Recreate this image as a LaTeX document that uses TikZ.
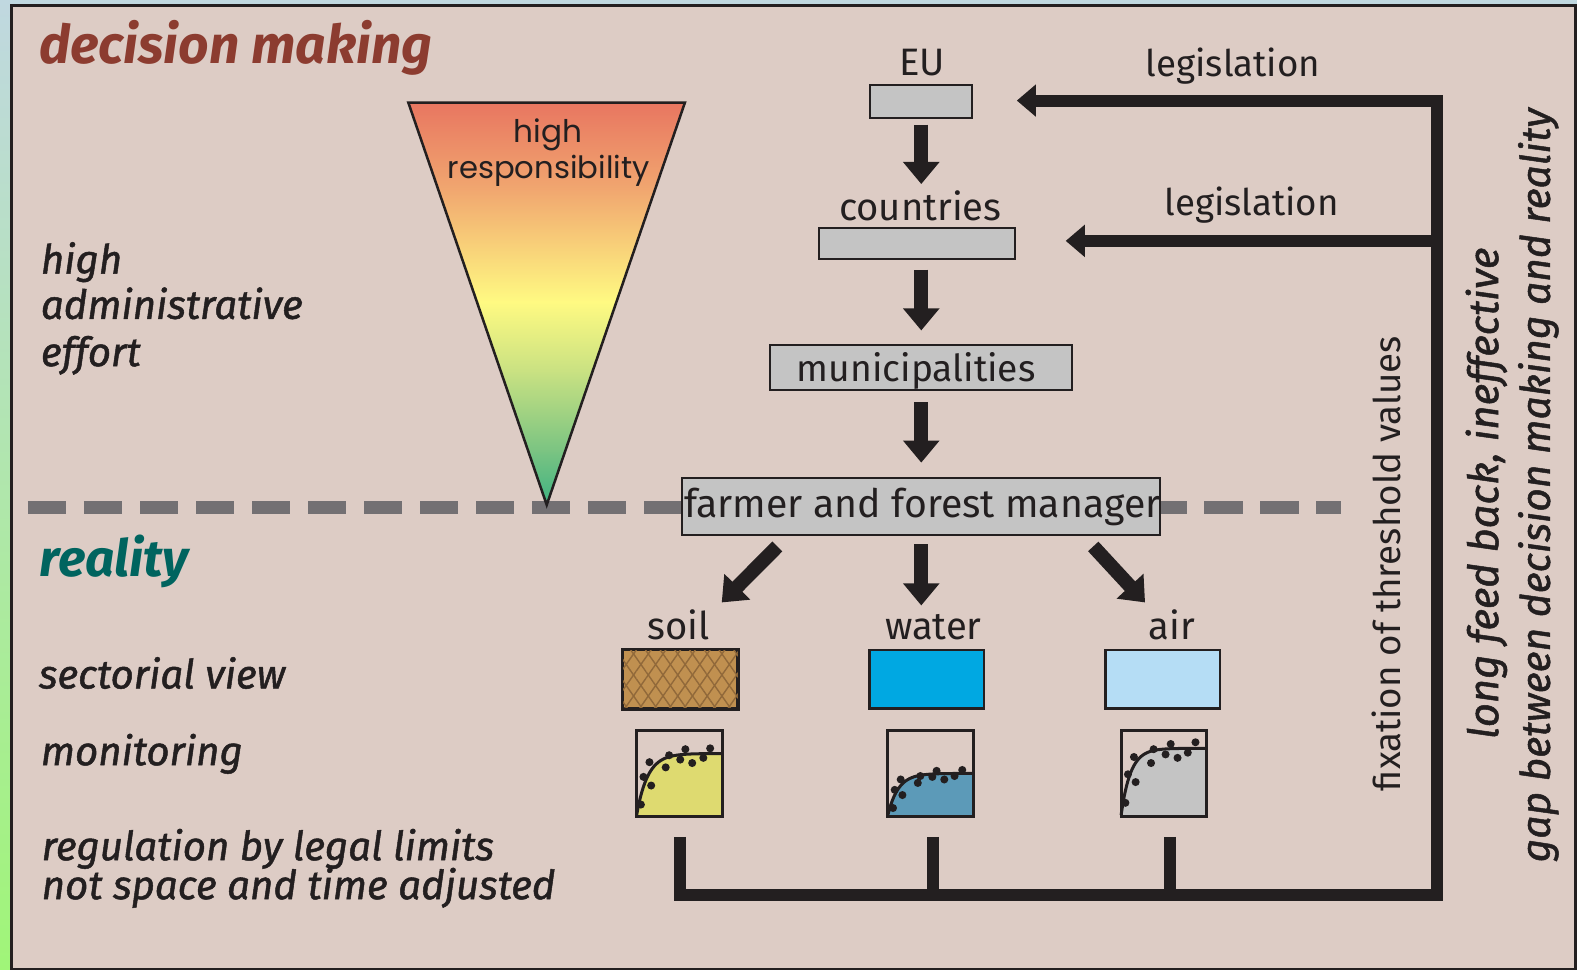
\documentclass[tikz,border=0pt]{standalone}
\usepackage{fontspec}
\setmainfont{Fira Sans}
\newfontfamily\resfont{Poppins}
\newfontfamily\labfont{Fira Sans}[ItalicFeatures={FakeBold=1.2}]
\usetikzlibrary{arrows.meta,patterns.meta}

\definecolor{bg}{RGB}{221,204,197}
\definecolor{ink}{RGB}{35,31,32}
\definecolor{boxgray}{RGB}{196,196,196}
\definecolor{dashgray}{RGB}{115,112,115}
\definecolor{titlered}{RGB}{140,60,48}
\definecolor{realteal}{RGB}{0,100,95}
\definecolor{soilc}{RGB}{192,144,80}
\definecolor{soilh}{RGB}{145,105,58}
\definecolor{waterc}{RGB}{0,168,226}
\definecolor{airc}{RGB}{181,221,245}
\definecolor{chsoil}{RGB}{222,218,112}
\definecolor{chwater}{RGB}{92,154,184}
\definecolor{chair}{RGB}{196,196,196}
\definecolor{trA}{RGB}{232,117,96}
\definecolor{trB}{RGB}{241,168,112}
\definecolor{trC}{RGB}{255,250,130}
\definecolor{trD}{RGB}{200,225,130}
\definecolor{trE}{RGB}{120,195,130}
\definecolor{trF}{RGB}{60,178,130}
\definecolor{stripblue}{RGB}{192,216,224}
\definecolor{stripgreen}{RGB}{160,245,120}

\tikzset{
  govbox/.style={draw=ink,fill=boxgray,line width=2pt,inner sep=0pt},
  fat/.style={ink,line width=14pt,-{Triangle[width=35pt,length=22pt]}},
  feed/.style={ink,line width=12pt,line join=miter},
  feedarrow/.style={feed,-{Triangle[width=31pt,length=19pt]}},
  lab/.style={font=\fontsize{38}{44}\selectfont,text=ink,inner sep=0pt,anchor=base},
  side/.style={font=\labfont\itshape\fontsize{40}{46}\selectfont,text=ink,inner sep=0pt,anchor=base west},
  vside/.style={font=\labfont\itshape\fontsize{41.5}{46}\selectfont,text=ink,inner sep=0pt,anchor=base,rotate=90},
  sector/.style={draw=ink,line width=2.5pt,minimum width=114pt,minimum height=58pt,inner sep=0pt},
  chartframe/.style={draw=ink,line width=3pt,minimum width=85pt,minimum height=86pt,inner sep=0pt},
}

\newcommand\mychart[6]{%
  \begin{scope}[shift={(#1,726)}]
    \fill[#2] (0,86) -- plot[domain=0:1,samples=40,smooth] ({85*\x},{86*(#3+(0.98-#3)*exp(-#4*\x))}) -- (85,86) -- cycle;
    \draw[ink,line width=3pt] plot[domain=0:1,samples=40,smooth] ({85*\x},{86*(#3+(0.98-#3)*exp(-#4*\x))});
    \foreach \px/\py in {#5} \fill[ink] (85*\px,86*\py) circle[radius=4pt];
  \end{scope}
  \node[chartframe] (#6) at (#1+42.5,769) {};
}

\begin{document}
\begin{tikzpicture}[x=1pt,y=-1pt]
\useasboundingbox (0,0) rectangle (1568,964);
% outer strips and frame
\fill[stripblue] (0,0) rectangle (1568,6);
\shade[top color=stripblue,bottom color=stripgreen] (0,0) rectangle (11,964);
\draw[ink,line width=2.7pt,fill=bg] (11.3,5.3) rectangle (1566.7,963.5);

% dashed separator
\draw[dashgray,line width=13pt,dash pattern=on 38pt off 17.7pt] (27.8,505) -- (1333,505);

% triangle
\begin{scope}
  \clip (406,102) -- (681,102) -- (543.6,502) -- cycle;
  \shade[top color=trA,bottom color=trB] (400,100) rectangle (690,191);
  \shade[top color=trB,bottom color=trC] (400,190) rectangle (690,301);
  \shade[top color=trC,bottom color=trD] (400,300) rectangle (690,371);
  \shade[top color=trD,bottom color=trE] (400,370) rectangle (690,451);
  \shade[top color=trE,bottom color=trF] (400,450) rectangle (690,505);
\end{scope}
\draw[ink,line width=2.5pt,line join=miter] (406,102) -- (681,102) -- (543.6,502) -- cycle;
\node[font=\resfont\fontsize{31}{36}\selectfont,text=ink,inner sep=0pt,anchor=base] (hr1) at (545,142) {high};
\node[font=\resfont\fontsize{30.5}{36}\selectfont,text=ink,inner sep=0pt,anchor=base] (hr2) at (545.5,177) {responsibility};

% titles and side labels
\node[font=\fontsize{53}{60}\selectfont\bfseries\itshape,text=titlered,inner sep=0pt,anchor=base west] (dm) at (39,63) {decision making};
\node[font=\fontsize{51}{56}\selectfont\bfseries\itshape,text=realteal,inner sep=0pt,anchor=base west] (real) at (39.5,573.6) {reality};
\node[side] (s1) at (40.5,272) {high};
\node[side] (s2) at (40.5,317) {administrative};
\node[side] (s3) at (40.5,364) {effort};
\node[side] (s4) at (38.5,684.5) {sectorial view};
\node[side] (s5) at (40.5,760.8) {monitoring};
\node[side] (s6) at (41.3,855.3) {regulation by legal limits};
\node[side] (s7) at (41.3,894) {not space and time adjusted};

% hierarchy boxes
\node[govbox,minimum width=101pt,minimum height=33pt] (eu) at (916,101) {};
\node[lab] (eulab) at (917,75.5) {EU};
\node[govbox,minimum width=195pt,minimum height=31pt] (countries) at (911.5,242) {};
\node[lab] (countrieslab) at (915,219) {countries};
\node[govbox,minimum width=300pt,minimum height=45pt] (muni) at (916,365.6) {};
\node[lab,font=\fontsize{37}{44}\selectfont] (munilab) at (911,379.3) {municipalities};
\node[govbox,minimum width=475pt,minimum height=56pt] (farmer) at (916,503.5) {};
\node[lab,font=\fontsize{39}{44}\selectfont] (farmerlab) at (917,515) {farmer and forest manager};

% down arrows
\coordinate (a1s) at (916,124);
\coordinate (a1e) at (916,183);
\coordinate (a2s) at (916,268);
\coordinate (a2e) at (916,328.6);
\coordinate (a3s) at (916,400);
\coordinate (a3e) at (916,460);
\draw[fat] (a1s) -- (a1e);
\draw[fat] (a2s) -- (a2e);
\draw[fat] (a3s) -- (a3e);
\coordinate (d1s) at (772.9,543.3);
\coordinate (d1e) at (717.6,599);
\coordinate (d2s) at (916,541);
\coordinate (d2e) at (916,602);
\coordinate (d3s) at (1087,543.3);
\coordinate (d3e) at (1138.5,599);
\draw[fat] (d1s) -- (d1e);
\draw[fat] (d2s) -- (d2e);
\draw[fat] (d3s) -- (d3e);

% sectors
\node[lab] (soillab) at (675,636) {soil};
\node[lab] (waterlab) at (928,636) {water};
\node[lab] (airlab) at (1165,636) {air};
\node[sector,fill=soilc] (soilbox) at (676.5,675.3) {};
\fill[pattern={Lines[angle=55,distance=12pt,line width=1.4pt]},pattern color=soilh] (soilbox.south west) rectangle (soilbox.north east);
\fill[pattern={Lines[angle=125,distance=12pt,line width=1.4pt]},pattern color=soilh] (soilbox.south west) rectangle (soilbox.north east);
\draw[ink,line width=2.5pt] (soilbox.south west) rectangle (soilbox.north east);
\node[sector,fill=waterc] (waterbox) at (921.3,675.3) {};
\node[sector,fill=airc] (airbox) at (1156.2,675.3) {};

% monitoring charts
\mychart{633}{chsoil}{0.27}{7.7}{.05/.86,.08/.54,.15/.37,.17/.64,.34/.43,.38/.29,.51/.34,.57/.22,.65/.38,.78/.32,.86/.21}{soilchart}
\mychart{882.8}{chwater}{0.50}{8.2}{.06/.90,.08/.69,.17/.75,.15/.57,.35/.61,.38/.53,.52/.54,.57/.47,.66/.57,.78/.53,.87/.46}{waterchart}
\mychart{1114.7}{chair}{0.21}{9}{.05/.84,.08/.51,.17/.60,.15/.31,.35/.38,.38/.22,.52/.28,.58/.16,.66/.32,.78/.26,.87/.14}{airchart}

% feedback lines
\coordinate (f1) at (676,832);
\coordinate (f2) at (928,832);
\coordinate (f3) at (1163,832);
\coordinate (fb1) at (676,890);
\coordinate (fb2) at (928,890);
\coordinate (fb3) at (1163,890);
\coordinate (fc) at (1429,890);
\coordinate (ft) at (1429,100);
\coordinate (fm) at (1429,239.5);
\coordinate (e1) at (1011,100);
\coordinate (e2) at (1059.6,239.5);
\draw[feedarrow] (f1) -- (fb1) -- (fc) -- (ft) -- (e1);
\draw[feed] (f2) -- (fb2);
\draw[feed] (f3) -- (fb3);
\draw[feedarrow] (fm) -- (e2);
\node[lab,font=\fontsize{36.5}{44}\selectfont] (leg1) at (1226,76) {legislation};
\node[lab,font=\fontsize{36.5}{44}\selectfont] (leg2) at (1244.5,213.8) {legislation};

% rotated texts
\node[lab,rotate=90,font=\fontsize{36.5}{44}\selectfont] (fix) at (1392,560.5) {fixation of threshold values};
\node[vside] (lf) at (1489.6,490.5) {long feed back, ineffective};
\node[vside,font=\labfont\itshape\fontsize{40.5}{46}\selectfont] (gap) at (1541,482.5) {gap between decision making and reality};
\end{tikzpicture}
\end{document}
